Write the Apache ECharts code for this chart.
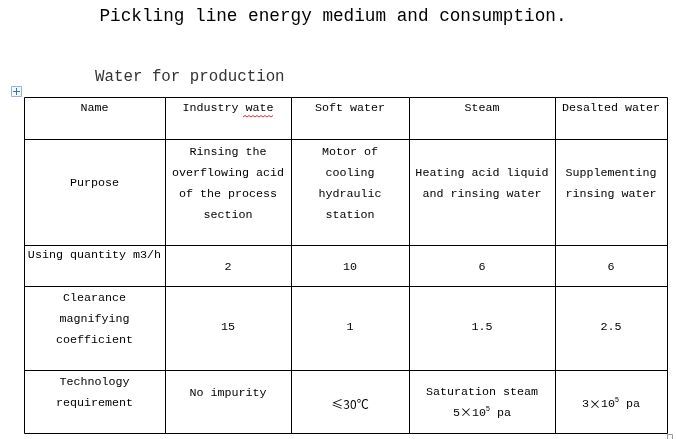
<!DOCTYPE html>
<html>
<head>
<meta charset="utf-8">
<script src="https://cdn.jsdelivr.net/npm/echarts@6/dist/echarts.min.js"></script>
<style>
  html, body { margin: 0; padding: 0; background: #fff; }
  #tableChart { width: 676px; height: 439px; }
</style>
</head>
<body>
<div id="tableChart"></div>
<script>
// table content
const columnNames = ["Name", "Industry wate", "Soft water", "Steam", "Desalted water"];
const purposeLabel = "Purpose";
const purposes = [
  "Rinsing the\noverflowing acid\nof the process\nsection",
  "Motor of\ncooling\nhydraulic\nstation",
  "Heating acid liquid\nand rinsing water",
  "Supplementing\nrinsing water"
];
const quantityLabel = "Using quantity m3/h";
const usingQuantity = [2, 10, 6, 6];
const coefficientLabel = "Clearance\nmagnifying\ncoefficient";
const clearanceCoefficient = [15, 1, 1.5, 2.5];
const requirementLabel = "Technology\nrequirement";
const requirements = [
  "No impurity",
  "{cjk|≤30℃}",
  "Saturation steam\n5{cjk|×}10{sup|5} pa",
  "3{cjk|×}10{sup|5} pa"
];

// layout (table units = px inside the grid)
const colEdges = [0, 141, 267, 385, 531, 643];
const rowEdges = [0, 42, 148, 189, 273, 336];
const textY = [
  [11, 11, 11, 11, 11],
  [86, 86, 86, 86, 86],
  [158, 170, 170, 170, 170],
  [222, 230, 230, 230, 230],
  [295, 296, 307, 305, 307]
];

const rows = [
  columnNames,
  [purposeLabel].concat(purposes),
  [quantityLabel].concat(usingQuantity.map(String)),
  [coefficientLabel].concat(clearanceCoefficient.map(String)),
  [requirementLabel].concat(requirements)
];

const cells = [];
rows.forEach((row, r) => {
  row.forEach((text, c) => {
    cells.push({
      value: [colEdges[c], colEdges[c + 1], rowEdges[r], rowEdges[r + 1], textY[r][c]],
      text: text
    });
  });
});

const monoFont = "'Liberation Mono', 'DejaVu Sans Mono', monospace";

const myChart = echarts.init(document.getElementById("tableChart"), null, { renderer: "canvas" });

const option = {
  backgroundColor: "#fff",
  animation: false,
  grid: { left: 24, top: 97, width: 643, height: 336 },
  xAxis: { type: "value", min: 0, max: 643, show: false },
  yAxis: { type: "value", min: 0, max: 336, inverse: true, show: false },
  graphic: [
    {
      type: "text",
      x: 333, y: 16,
      style: {
        text: "Pickling line energy medium and consumption.",
        font: "normal 17.7px " + monoFont,
        fill: "#000",
        align: "center",
        verticalAlign: "middle"
      }
    },
    {
      type: "text",
      x: 95, y: 77,
      style: {
        text: "Water for production",
        font: "normal 15.8px " + monoFont,
        fill: "#333",
        align: "left",
        verticalAlign: "middle"
      }
    },
    {
      // table move handle
      type: "group",
      x: 11, y: 86,
      children: [
        { type: "rect", shape: { x: 0.5, y: 0.5, width: 10, height: 10 }, style: { fill: "#f2f6fb", stroke: "#9fb4cf", lineWidth: 1 } },
        { type: "line", shape: { x1: 5.5, y1: 2, x2: 5.5, y2: 9 }, style: { stroke: "#3b6fb6", lineWidth: 1 } },
        { type: "line", shape: { x1: 2, y1: 5.5, x2: 9, y2: 5.5 }, style: { stroke: "#3b6fb6", lineWidth: 1 } }
      ]
    },
    {
      // spelling underline
      type: "polyline",
      shape: {
        points: [[243, 117], [245, 115.5], [247, 117], [249, 115.5], [251, 117], [253, 115.5], [255, 117],
                 [257, 115.5], [259, 117], [261, 115.5], [263, 117], [265, 115.5], [267, 117], [269, 115.5],
                 [271, 117], [273, 115.5]]
      },
      style: { stroke: "#e03030", lineWidth: 1, fill: null }
    },
    {
      type: "rect",
      shape: { x: 667.5, y: 434.5, width: 5, height: 5 },
      style: { fill: "none", stroke: "#999", lineWidth: 1 }
    }
  ],
  series: [
    {
      type: "custom",
      coordinateSystem: "cartesian2d",
      data: cells.map(d => d.value),
      renderItem: function (params, api) {
        const p0 = api.coord([api.value(0), api.value(2)]);
        const p1 = api.coord([api.value(1), api.value(3)]);
        const ty = api.coord([0, api.value(4)])[1];
        const x0 = Math.round(p0[0]) + 0.5;
        const y0 = Math.round(p0[1]) + 0.5;
        return {
          type: "group",
          children: [
            {
              type: "rect",
              shape: { x: x0, y: y0, width: Math.round(p1[0] - p0[0]), height: Math.round(p1[1] - p0[1]) },
              style: { fill: "none", stroke: "#000", lineWidth: 1 }
            },
            {
              type: "text",
              x: (p0[0] + p1[0]) / 2,
              y: ty,
              style: {
                text: cells[params.dataIndex].text,
                fill: "#000",
                font: "normal 11.7px " + monoFont,
                lineHeight: 21,
                align: "center",
                verticalAlign: "middle",
                rich: {
                  cjk: { fontFamily: "'Noto Sans CJK SC'", fontSize: 12, fill: "#000", lineHeight: 21 },
                  sup: { fontSize: 7, fill: "#000", padding: [0, 0, 7, 0] }
                }
              }
            }
          ]
        };
      }
    }
  ]
};

myChart.setOption(option);
</script>
</body>
</html>
